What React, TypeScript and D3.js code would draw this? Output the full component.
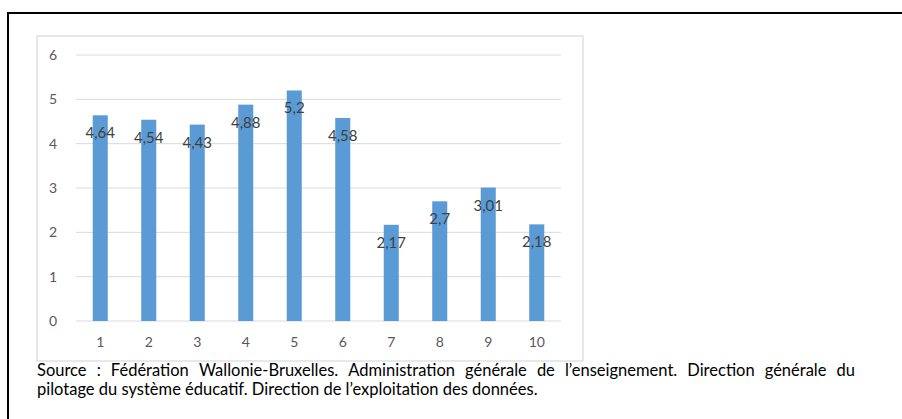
import React, { useEffect, useRef } from "react";
import * as d3 from "d3";

const categories = ["1", "2", "3", "4", "5", "6", "7", "8", "9", "10"];
const values = [4.64, 4.54, 4.43, 4.88, 5.2, 4.58, 2.17, 2.7, 3.01, 2.18];
const valueLabels = ["4,64", "4,54", "4,43", "4,88", "5,2", "4,58", "2,17", "2,7", "3,01", "2,18"];
const yTicks = [0, 1, 2, 3, 4, 5, 6];
const sourceLine1 = ["Source", ":", "Fédération", "Wallonie-Bruxelles.", "Administration", "générale", "de", "l’enseignement.", "Direction", "générale", "du"];
const sourceLine2 = "pilotage du système éducatif. Direction de l’exploitation des données.";

const W = 902;
const H = 419;
const FONT = "Lato, 'Open Sans', sans-serif";

export default function App() {
  const ref = useRef<SVGSVGElement | null>(null);

  useEffect(() => {
    const svg = d3.select(ref.current);
    svg.selectAll("*").remove();

    svg.append("rect").attr("x", 0).attr("y", 0).attr("width", W).attr("height", H).attr("fill", "#fff");

    // page frame
    svg.append("line").attr("x1", 8).attr("x2", W).attr("y1", 13).attr("y2", 13).attr("stroke", "#000").attr("stroke-width", 2);
    svg.append("line").attr("x1", 8).attr("x2", 8).attr("y1", 12).attr("y2", H).attr("stroke", "#000").attr("stroke-width", 2);

    // chart box
    svg.append("rect").attr("x", 37).attr("y", 36).attr("width", 546).attr("height", 325)
      .attr("fill", "none").attr("stroke", "#d9d9d9").attr("stroke-width", 1.2);

    const x = d3.scaleBand<string>().domain(categories).range([76, 561]).paddingInner(0.69).paddingOuter(0.345);
    const y = d3.scaleLinear().domain([0, 6]).range([321, 55]);

    const g = svg.append("g");
    g.selectAll("line.grid").data(yTicks).enter().append("line")
      .attr("x1", 76).attr("x2", 561)
      .attr("y1", (d) => y(d)).attr("y2", (d) => y(d))
      .attr("stroke", "#d9d9d9").attr("stroke-width", 1);

    g.selectAll("text.ytick").data(yTicks).enter().append("text")
      .attr("x", 57).attr("y", (d) => y(d) + 5)
      .attr("text-anchor", "end").attr("font-family", FONT).attr("font-size", 14)
      .attr("fill", "#595959").text((d) => String(d));

    g.selectAll("rect.bar").data(values).enter().append("rect")
      .attr("x", (_d, i) => x(categories[i])!)
      .attr("width", x.bandwidth())
      .attr("y", (d) => y(d))
      .attr("height", (d) => y(0) - y(d))
      .attr("fill", "#5b9bd5");

    g.selectAll("text.lbl").data(values).enter().append("text")
      .attr("x", (_d, i) => x(categories[i])! + x.bandwidth() / 2)
      .attr("y", (d) => y(d) + 23)
      .attr("text-anchor", "middle").attr("font-family", FONT).attr("font-size", 15)
      .attr("fill", "#404040").text((_d, i) => valueLabels[i]);

    g.selectAll("text.xtick").data(categories).enter().append("text")
      .attr("x", (d) => x(d)! + x.bandwidth() / 2)
      .attr("y", 347)
      .attr("text-anchor", "middle").attr("font-family", FONT).attr("font-size", 14)
      .attr("fill", "#595959").text((d) => d);

    // source text: fit line 2 width, justify line 1
    const left = 37;
    const right1 = 855;
    const right2 = 539;
    const t2 = svg.append("text").attr("x", left).attr("y", 395)
      .attr("font-family", FONT).attr("font-size", 14).attr("fill", "#000").text(sourceLine2);
    const w2 = (t2.node() as SVGTextElement).getComputedTextLength();
    const fs = Math.min(16.5, 14 * (right2 - left) / w2);
    t2.attr("font-size", fs);

    const words = sourceLine1.map((w) =>
      svg.append("text").attr("y", 376).attr("font-family", FONT).attr("font-size", fs).attr("fill", "#000").text(w)
    );
    const widths = words.map((t) => (t.node() as SVGTextElement).getComputedTextLength());
    const total = widths.reduce((a, b) => a + b, 0);
    const gap = (right1 - left - total) / (words.length - 1);
    let cx = left;
    words.forEach((t, i) => {
      t.attr("x", cx);
      cx += widths[i] + gap;
    });
  }, []);

  return (
    <svg ref={ref} width={W} height={H} style={{ position: "absolute", left: 0, top: 0, display: "block" }} />
  );
}
